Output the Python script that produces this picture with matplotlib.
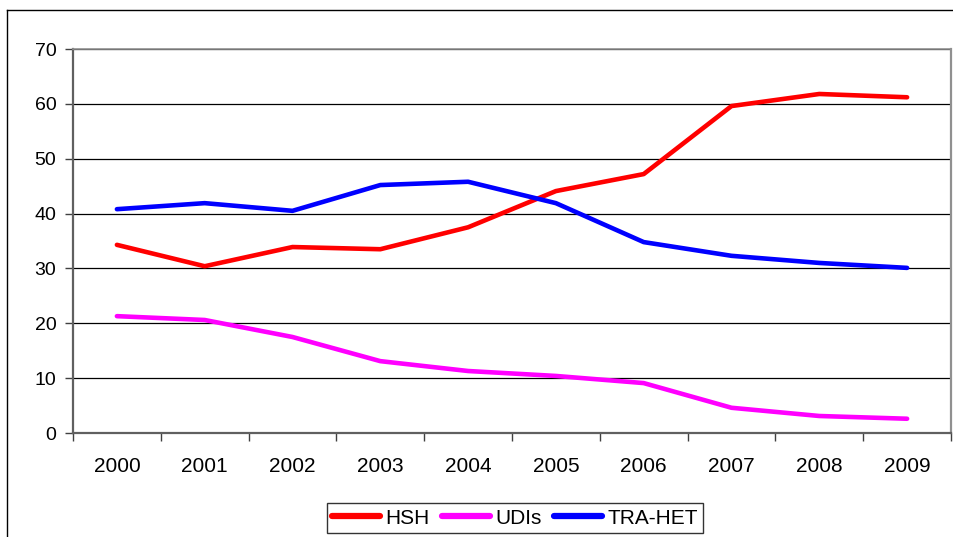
import matplotlib
matplotlib.use("Agg")
import matplotlib.pyplot as plt
from matplotlib.lines import Line2D
import numpy as np

years = ["2000", "2001", "2002", "2003", "2004", "2005", "2006", "2007", "2008", "2009"]
hsh = [34.3, 30.4, 33.9, 33.5, 37.5, 44.1, 47.2, 59.6, 61.8, 61.2]
udis = [21.3, 20.6, 17.5, 13.1, 11.3, 10.4, 9.1, 4.6, 3.1, 2.6]
traht = [40.8, 41.9, 40.5, 45.2, 45.8, 41.9, 34.8, 32.3, 31.0, 30.1]
yticks = [0, 10, 20, 30, 40, 50, 60, 70]

plt.rcParams['font.family'] = ['Liberation Sans', 'DejaVu Sans']

fig = plt.figure(figsize=(9.54, 5.37), dpi=100)
ax = fig.add_axes([73/954, 104/537, 878/954, 384/537])

x = np.arange(len(years))
ax.plot(x, hsh, color='#FF0000', lw=3.3, label='HSH', solid_capstyle='round', solid_joinstyle='round')
ax.plot(x, udis, color='#FF00FF', lw=3.3, label='UDIs', solid_capstyle='round', solid_joinstyle='round')
ax.plot(x, traht, color='#0000FF', lw=3.3, label='TRA-HET', solid_capstyle='round', solid_joinstyle='round')

ax.set_xlim(-0.5, len(years) - 0.5)
ax.set_ylim(0, 70)
ax.set_yticks(yticks)
ax.set_yticklabels([str(v) for v in yticks], fontsize=14)
ax.set_xticks(x)
ax.set_xticklabels(years, fontsize=15)
ax.set_xticks(np.arange(-0.5, len(years), 1.0), minor=True)
ax.tick_params(axis='x', which='major', length=0, pad=17)
ax.tick_params(axis='x', which='minor', length=6, width=1, color='#404040')
ax.tick_params(axis='y', which='major', length=6, width=1, color='#404040', pad=6)

ax.yaxis.grid(True, color='black', lw=0.9)
ax.set_axisbelow(True)
for s in ['left', 'bottom']:
    ax.spines[s].set_color('#606060')
    ax.spines[s].set_linewidth(1.6)
ax.spines['right'].set_color('#909090')
ax.spines['right'].set_linewidth(1.6)
ax.spines['top'].set_color('#909090')
ax.spines['top'].set_linewidth(1.2)

leg = fig.legend(loc='center', bbox_to_anchor=(515/954, 19/537), ncol=3, fontsize=15,
                 frameon=True, fancybox=False, edgecolor='black', handlelength=2.3,
                 handletextpad=0.25, columnspacing=0.6, borderpad=0.25)
leg.get_frame().set_linewidth(1.0)
for h in leg.get_lines():
    h.set_linewidth(4.5)

# outer chart frame (extends beyond image on right and bottom)
fig.add_artist(Line2D([7.5/954, 7.5/954], [-0.1, 1 - 10/537], transform=fig.transFigure, color='black', lw=1))
fig.add_artist(Line2D([7.5/954, 1.1], [1 - 10/537, 1 - 10/537], transform=fig.transFigure, color='black', lw=1))

fig.savefig("out.png", dpi=100)
